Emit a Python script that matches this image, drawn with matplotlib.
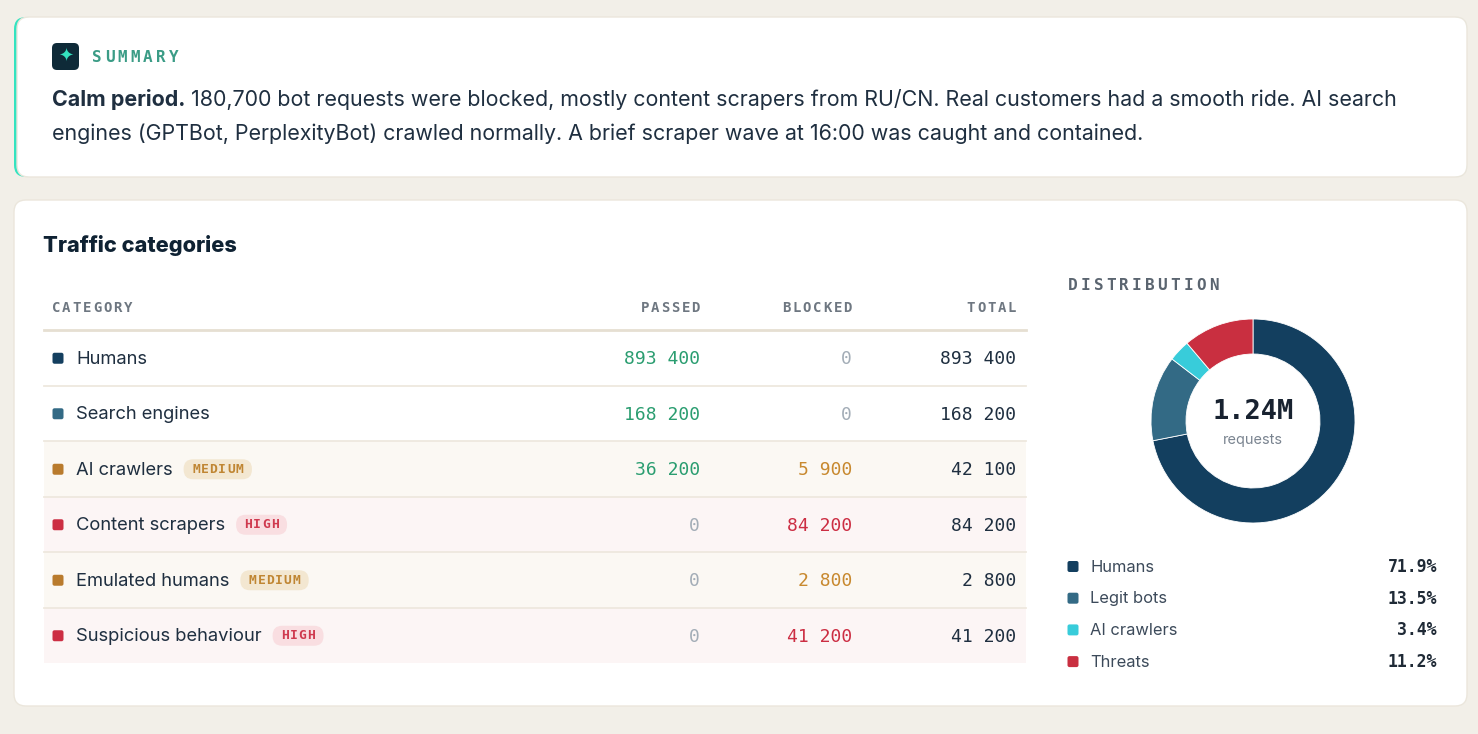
import matplotlib
matplotlib.use("Agg")
import matplotlib.pyplot as plt
from matplotlib.patches import FancyBboxPatch, Rectangle

# Data
categories = ["Humans", "Search engines", "AI crawlers", "Content scrapers",
              "Emulated humans", "Suspicious behaviour"]
passed = [893400, 168200, 36200, 0, 0, 0]
blocked = [0, 0, 5900, 84200, 2800, 41200]
riskLevels = ["", "", "MEDIUM", "HIGH", "MEDIUM", "HIGH"]
categoryColors = ["#143f5f", "#336a85", "#b97b2d", "#cc2e43", "#b97b2d", "#cc2e43"]
tableHeaders = ["CATEGORY", "PASSED", "BLOCKED", "TOTAL"]

distLabels = ["Humans", "Legit bots", "AI crawlers", "Threats"]
distShares = [71.9, 13.5, 3.4, 11.2]
distColors = ["#133f5f", "#336a85", "#38ccda", "#c92f40"]
totalRequests = "1.24M"

summaryLead = "Calm period."
summaryLine1 = ("180,700 bot requests were blocked, mostly content scrapers from RU/CN. "
                "Real customers had a smooth ride. AI search")
summaryLine2 = ("engines (GPTBot, PerplexityBot) crawled normally. "
                "A brief scraper wave at 16:00 was caught and contained.")

# Style
W, H = 1478, 734
SANS = "Inter"
MONO = "DejaVu Sans Mono"
BG = "#f2efe8"
INK = "#1f2f40"
MUTED = "#6e7781"
ZERO = "#a3adb7"
GREEN = "#2a9d70"
riskStyle = {
    "MEDIUM": dict(badgeBg="#f3e7d1", badgeFg="#c08633", rowBg="#fbf8f3", num="#c8892f"),
    "HIGH": dict(badgeBg="#f9dee1", badgeFg="#cf3a4f", rowBg="#fcf5f5", num="#cc2e43"),
}


def px(size):
    """pixels -> points"""
    return size * 0.72


def fmt(v):
    return f"{v:,}".replace(",", " ")


def spacedText(ax, x, y, s, sizePx, step, color, weight="bold", align="left"):
    # letter-spaced monospace caps, like the css tracking in the original
    charW = 0.602 * sizePx
    if align == "right":
        x = x - (len(s) - 1) * step - charW
    for i, ch in enumerate(s):
        ax.text(x + i * step + charW / 2, y, ch, ha="center", va="center",
                fontsize=px(sizePx), family=MONO, color=color, weight=weight)


def roundBox(ax, x, y, w, h, r, **kw):
    ax.add_patch(FancyBboxPatch((x + r, y + r), w - 2 * r, h - 2 * r,
                                boxstyle=f"round,pad={r}", **kw))


fig = plt.figure(figsize=(W / 100, H / 100), dpi=100, facecolor=BG)
ax = fig.add_axes([0, 0, 1, 1])
ax.set_xlim(0, W)
ax.set_ylim(H, 0)
ax.axis("off")
renderer = fig.canvas.get_renderer()

# Summary card
roundBox(ax, 14, 17, 1453, 160, 12, facecolor="#34e3c0", edgecolor="none")
roundBox(ax, 17, 17, 1450, 160, 12, facecolor="white", edgecolor="#ebe6dc", lw=1)
roundBox(ax, 52, 43, 27, 27, 5, facecolor="#0e2a38", edgecolor="none")
ax.text(65.5, 57, "\u2726", ha="center", va="center", fontsize=13,
        family="DejaVu Sans", color="#34e3c0")
spacedText(ax, 92, 57, "SUMMARY", 16, 12.8, "#3b9c86")

lead = ax.text(52, 100, summaryLead, ha="left", va="center", fontsize=px(21.4),
               family=SANS, weight="bold", color=INK)
leadW = lead.get_window_extent(renderer).width
ax.text(52 + leadW + 6, 100, summaryLine1, ha="left", va="center",
        fontsize=px(21.4), family=SANS, color=INK)
ax.text(52, 134, summaryLine2, ha="left", va="center", fontsize=px(21.4),
        family=SANS, color=INK)

# Traffic card
roundBox(ax, 14, 200, 1453, 506, 12, facecolor="white", edgecolor="#ebe6dc", lw=1)
ax.text(43, 245, "Traffic categories", ha="left", va="center", fontsize=px(21.8),
        family=SANS, weight="heavy", color="#0f2233")

# Table
tableLeft, tableRight = 44, 1026
colRights = [None, 700, 852, 1016]
headerY, lineY, rowH = 308, 330, 55.5

spacedText(ax, 52, headerY, tableHeaders[0], 14, 10.2, MUTED)
for header, right in zip(tableHeaders[1:], colRights[1:]):
    spacedText(ax, right, headerY, header, 14, 10.2, MUTED, align="right")

for i, name in enumerate(categories):
    top = lineY + i * rowH
    mid = top + rowH / 2
    textY = mid + 1.5
    risk = riskLevels[i]
    style = riskStyle.get(risk)

    if style:
        ax.add_patch(Rectangle((tableLeft, top), tableRight - tableLeft, rowH,
                               facecolor=style["rowBg"], edgecolor="none"))
    if i > 0:
        ax.plot([tableLeft, tableRight], [top, top], color="#eee8de", lw=1.3)

    roundBox(ax, 52.5, mid - 5, 11, 11, 2, facecolor=categoryColors[i], edgecolor="none")
    t = ax.text(76, textY, name, ha="left", va="center", fontsize=px(18.4),
                family=SANS, color=INK)

    if style:
        nameW = t.get_window_extent(renderer).width
        badgeX = 76 + nameW + 11
        badgeW = (len(risk) - 1) * 8.7 + 7.8 + 17
        roundBox(ax, badgeX, mid - 9.5, badgeW, 20, 9.5,
                 facecolor=style["badgeBg"], edgecolor="none")
        spacedText(ax, badgeX + 8.5, mid + 0.5, risk, 13, 8.7, style["badgeFg"])

    total = passed[i] + blocked[i]
    passColor = GREEN if passed[i] else ZERO
    blockColor = (style["num"] if style else INK) if blocked[i] else ZERO
    for val, right, color in [(passed[i], colRights[1], passColor),
                              (blocked[i], colRights[2], blockColor),
                              (total, colRights[3], INK)]:
        ax.text(right, textY, fmt(val), ha="right", va="center", fontsize=px(18),
                family=MONO, color=color)

ax.plot([tableLeft, tableRight], [lineY, lineY], color="#e6dfd2", lw=2)

# Distribution donut
spacedText(ax, 1068, 286, "DISTRIBUTION", 16, 12.8, "#5b6570")
cx, cy, r = 1253, 421, 102
pieAx = fig.add_axes([(cx - r) / W, (H - cy - r) / H, 2 * r / W, 2 * r / H])
pieAx.pie(distShares, colors=distColors, startangle=90, counterclock=False,
          radius=1, wedgeprops=dict(width=35 / 102, edgecolor="white", linewidth=0.6))
pieAx.set_xlim(-1, 1)
pieAx.set_ylim(-1, 1)
pieAx.axis("off")
pieAx.text(0, 0.09, totalRequests, ha="center", va="center", fontsize=px(27),
           family=MONO, weight="bold", color="#182230")
pieAx.text(0, -0.19, "requests", ha="center", va="center", fontsize=px(14.5),
           family=SANS, color="#7a8490")

# Distribution legend
for i, (label, share, color) in enumerate(zip(distLabels, distShares, distColors)):
    y = 566 + i * 31.7
    roundBox(ax, 1067.5, y - 5, 11, 11, 2, facecolor=color, edgecolor="none")
    ax.text(1090, y + 1, label, ha="left", va="center", fontsize=px(16.5),
            family=SANS, color="#3c4a5a")
    ax.text(1437, y + 1, f"{share:.1f}%", ha="right", va="center", fontsize=px(16.5),
            family=MONO, weight="bold", color="#1f2a36")

fig.savefig("out.png", dpi=100, facecolor=BG)
